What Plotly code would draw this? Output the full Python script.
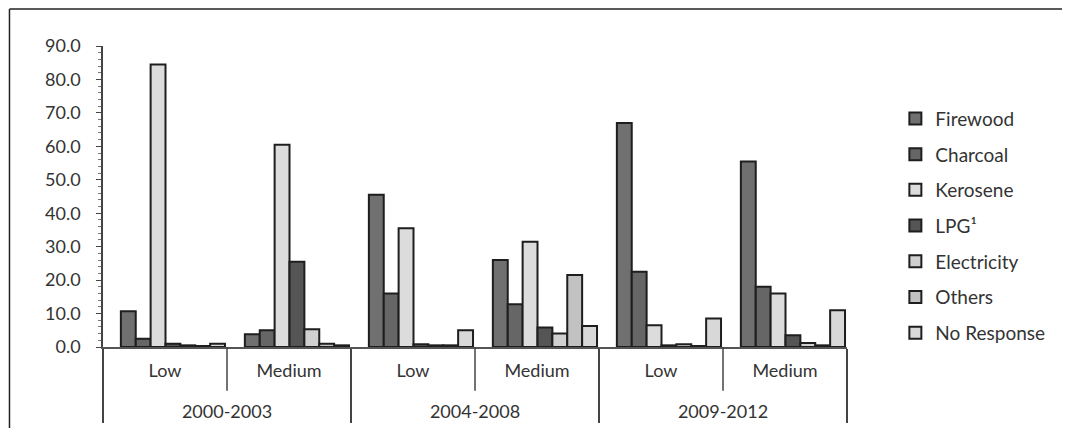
import plotly.graph_objects as go

years = ["2000-2003", "2000-2003", "2004-2008", "2004-2008", "2009-2012", "2009-2012"]
levels = ["Low", "Medium", "Low", "Medium", "Low", "Medium"]

series_names = ["Firewood", "Charcoal", "Kerosene", "LPG¹", "Electricity", "Others", "No Response"]
firewood = [10.7, 3.8, 45.5, 26.0, 67.0, 55.5]
charcoal = [2.5, 5.0, 16.0, 12.8, 22.5, 18.0]
kerosene = [84.5, 60.5, 35.5, 31.5, 6.5, 16.0]
lpg = [1.0, 25.5, 0.8, 5.8, 0.5, 3.5]
electricity = [0.5, 5.3, 0.5, 4.0, 0.8, 1.2]
others = [0.3, 1.0, 0.5, 21.5, 0.3, 0.5]
no_response = [1.0, 0.5, 5.0, 6.3, 8.5, 11.0]

values = [firewood, charcoal, kerosene, lpg, electricity, others, no_response]
colors = ["#707070", "#666666", "#dcdcdc", "#555555", "#d0d0d0", "#c2c2c2", "#d8d8d8"]

# inner labels carry an empty second line so the outer row sits lower, as in the reference
levels_lbl = [lv + "<br> " for lv in levels]

BAR_W = 0.12
START = -0.356

fig = go.Figure()
for i, (name, vals, col) in enumerate(zip(series_names, values, colors)):
    fig.add_trace(go.Bar(
        x=[years, levels_lbl], y=vals, name=name, legendgroup="g%d" % i,
        width=BAR_W, offset=START + i * BAR_W,
        marker=dict(color=col, line=dict(color="#1e1e1e", width=2)),
    ))

font_family = "Lato, 'Open Sans', sans-serif"
fig.update_layout(
    width=1054, height=420,
    margin=dict(l=95, r=211, t=38, b=81),
    paper_bgcolor="white", plot_bgcolor="white",
    barmode="overlay",
    font=dict(family=font_family, size=18, color="#333333"),
    showlegend=True,
    legend=dict(x=1.065, y=0.822, xanchor="left", yanchor="top",
                font=dict(size=19, color="#333333"), tracegroupgap=8,
                traceorder="grouped",
                itemwidth=30, bgcolor="rgba(0,0,0,0)"),
    xaxis=dict(
        type="multicategory", showline=True, linecolor="#555555", linewidth=1.5,
        showdividers=True, dividercolor="#444444", dividerwidth=1.5,
        tickfont=dict(size=18, color="#333333"), ticks="", ticklabelstandoff=7,
        automargin=False,
    ),
    yaxis=dict(
        range=[0, 90], dtick=10, tickformat=".1f", showgrid=False, zeroline=False,
        showline=True, linecolor="#444444", linewidth=1.5,
        ticks="outside", ticklen=5, tickcolor="#444444",
        minor=dict(ticks="outside", ticklen=3, dtick=2, tickcolor="#777777"),
        tickfont=dict(size=18, color="#333333"), ticklabelstandoff=12,
        automargin=False,
    ),
)

# inner dividers between Low and Medium (first label row only)
for px in [1/6, 3/6, 5/6]:
    fig.add_shape(type="line", xref="paper", yref="paper",
                  x0=px, x1=px, y0=0, y1=-0.145,
                  line=dict(color="#444444", width=1.5))

# outer frame like the scanned chart border
fig.add_shape(type="line", xref="paper", yref="paper",
              x0=-0.1257, x1=1.5, y0=1.123, y1=1.123,
              line=dict(color="#222222", width=1.5))
fig.add_shape(type="line", xref="paper", yref="paper",
              x0=-0.1257, x1=-0.1257, y0=1.123, y1=-0.3,
              line=dict(color="#222222", width=1.5))

fig.write_html("out.html")
